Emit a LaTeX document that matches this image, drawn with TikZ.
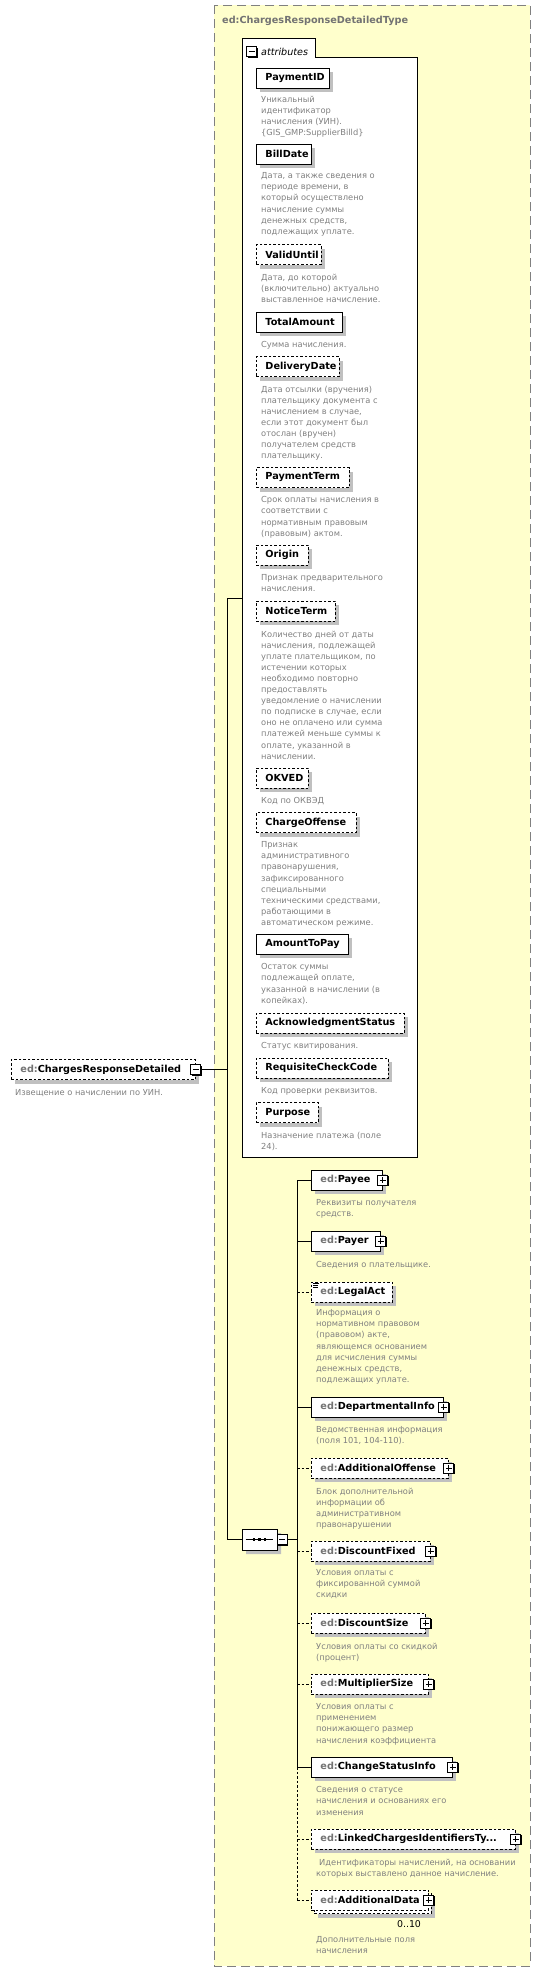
\documentclass[tikz,border=0pt]{standalone}
\usepackage{fontspec}
\setmainfont{DejaVu Sans}
\usetikzlibrary{shadows,shapes.misc}
\definecolor{yel}{RGB}{255,255,204}
\definecolor{descgray}{RGB}{128,128,128}
\definecolor{edgray}{RGB}{115,115,115}
\definecolor{shgray}{RGB}{192,192,192}
\definecolor{bordgray}{RGB}{128,128,128}
\newcommand{\namefont}{\fontsize{9.7}{11}\selectfont\bfseries}
\newcommand{\descfont}{\fontsize{8.3}{11.1}\selectfont}
\newcommand{\edp}{{\color{edgray}ed:}}
\newcommand{\nmbox}[2]{\makebox[\dimexpr#1pt-18pt\relax][l]{#2}}
\begin{document}
\begin{tikzpicture}[x=1pt,y=-1pt,
 shad/.style={general shadow={shadow xshift=4pt,shadow yshift=-4pt,fill=shgray}},
 box/.style={draw=black,line width=0.9pt,fill=white,inner xsep=9pt,inner ysep=1pt,minimum height=20pt,anchor=west,font=\namefont},
 opt/.style={dash pattern=on 2.5pt off 2pt},
 desc/.style={anchor=north west,yshift=7pt,inner sep=0pt,align=left,font=\descfont,text=descgray,
   execute at begin node={\rule{0pt}{7pt}}},
 smallbox/.style={draw=black,line width=0.9pt,fill=white,minimum size=10pt,inner sep=0pt,
   general shadow={shadow xshift=1pt,shadow yshift=-1pt,fill=black}},
 plusb/.style={smallbox,path picture={
   \draw[line width=0.9pt] ([xshift=2pt]path picture bounding box.west) -- ([xshift=-2pt]path picture bounding box.east);
   \draw[line width=0.9pt] ([yshift=-2pt]path picture bounding box.north) -- ([yshift=2pt]path picture bounding box.south);}},
 minusb/.style={smallbox,path picture={
   \draw[line width=0.9pt] ([xshift=2pt]path picture bounding box.west) -- ([xshift=-2pt]path picture bounding box.east);}},
 conn/.style={draw=black,line width=0.9pt},
]
\useasboundingbox (0,0) rectangle (541,1973);
\fill[white] (0,0) rectangle (541,1973);
% outer type box
\draw[draw=bordgray,line width=1pt,dash pattern=on 9pt off 5pt,fill=yel] (214,5) rectangle (530,1966);
\node[anchor=base west,inner sep=0pt,font=\fontsize{9.7}{11}\selectfont\bfseries,text=edgray] (title) at (222,23) {ed:ChargesResponseDetailedType};
% attributes compartment
\draw[line width=0.9pt,fill=white] (242,1157) -- (242,38) -- (315,38) -- (315,57) -- (417,57) -- (417,1157) -- cycle;
\node[minusb] (attrm) at (251.5,51.5) {};
\node[anchor=base west,inner sep=0pt,font=\fontsize{9.6}{11}\selectfont\itshape] (attrt) at (261,55) {attributes};

\node[box,shad] (a1) at (256,78) {\nmbox{73}{PaymentID}};
\node[desc] (a1d) at (261,102.5) {Уникальный\\идентификатор\\начисления (УИН).\\\{GIS\_GMP:SupplierBilld\}};
\node[box,shad] (a2) at (256,154) {\nmbox{55}{BillDate}};
\node[desc] (a2d) at (261,179.5) {Дата, а также сведения о\\периоде времени, в\\который осуществлено\\начисление суммы\\денежных средств,\\подлежащих уплате.};
\node[box,opt,shad] (a3) at (256,254.5) {\nmbox{65}{ValidUntil}};
\node[desc] (a3d) at (261,280.5) {Дата, до которой\\(включительно) актуально\\выставленное начисление.};
\node[box,shad] (a4) at (256,322) {\nmbox{86}{TotalAmount}};
\node[desc] (a4d) at (261,347.5) {Сумма начисления.};
\node[box,opt,shad] (a5) at (256,366.5) {\nmbox{83}{DeliveryDate}};
\node[desc] (a5d) at (261,392.5) {Дата отсылки (вручения)\\плательщику документа с\\начислением в случае,\\если этот документ был\\отослан (вручен)\\получателем средств\\плательщику.};
\node[box,opt,shad] (a6) at (256,477.5) {\nmbox{93}{PaymentTerm}};
\node[desc] (a6d) at (261,503.5) {Срок оплаты начисления в\\соответствии с\\нормативным правовым\\(правовым) актом.};
\node[box,opt,shad] (a7) at (256,555) {\nmbox{52}{Origin}};
\node[desc] (a7d) at (261,581.5) {Признак предварительного\\начисления.};
\node[box,opt,shad] (a8) at (256,611) {\nmbox{79}{NoticeTerm}};
\node[desc] (a8d) at (261,637.5) {Количество дней от даты\\начисления, подлежащей\\уплате плательщиком, по\\истечении которых\\необходимо повторно\\предоставлять\\уведомление о начислении\\по подписке в случае, если\\оно не оплачено или сумма\\платежей меньше суммы к\\оплате, указанной в\\начислении.};
\node[box,opt,shad] (a9) at (256,778) {\nmbox{52}{OKVED}};
\node[desc] (a9d) at (261,803.5) {Код по ОКВЭД};
\node[box,opt,shad] (a10) at (256,822.5) {\nmbox{100}{ChargeOffense}};
\node[desc] (a10d) at (261,848.5) {Признак\\административного\\правонарушения,\\зафиксированного\\специальными\\техническими средствами,\\работающими в\\автоматическом режиме.};
\node[box,shad] (a11) at (256,944) {\nmbox{92}{AmountToPay}};
\node[desc] (a11d) at (261,970.5) {Остаток суммы\\подлежащей оплате,\\указанной в начислении (в\\копейках).};
\node[box,opt,shad] (a12) at (256,1023) {\nmbox{148}{AcknowledgmentStatus}};
\node[desc] (a12d) at (261,1048.5) {Статус квитирования.};
\node[box,opt,shad] (a13) at (256,1068) {\nmbox{132}{RequisiteCheckCode}};
\node[desc] (a13d) at (261,1093.5) {Код проверки реквизитов.};
\node[box,opt,shad] (a14) at (256,1112.5) {\nmbox{62}{Purpose}};
\node[desc] (a14d) at (261,1138.5) {Назначение платежа (поле\\24).};

% root element
\node[box,opt,shad] (crd) at (11,1069.5) {\nmbox{184}{\edp ChargesResponseDetailed}};
\node[minusb] (crdm) at (crd.east) {};
\node[desc] (crdd) at (15,1095.5) {Извещение о начислении по УИН.};

% left bus
\coordinate (attrL) at (242,598);
\coordinate (L1) at (227,598);
\coordinate (L2) at (227,1539.5);
\draw[conn] (crdm.east) -- (crdm.east -| L1);
\draw[conn] (attrL) -- (L1) -- (L2);

% sequence compositor
\node[chamfered rectangle,chamfered rectangle xsep=5pt,draw=black,line width=0.9pt,fill=white,minimum width=35pt,minimum height=21pt,inner sep=0pt,shad] (seq) at (259.5,1539.5) {};
\draw[conn] (L2) -- (seq.west);
\draw[line width=0.9pt] ([xshift=4pt]seq.west) -- ([xshift=-4pt]seq.east);
\fill ([xshift=-5.5pt]seq.center) +(-1.3,-1.3) rectangle +(1.3,1.3);
\fill (seq.center) +(-1.3,-1.3) rectangle +(1.3,1.3);
\fill ([xshift=5.5pt]seq.center) +(-1.3,-1.3) rectangle +(1.3,1.3);
\node[minusb] (seqm) at (282,1539.5) {};
\coordinate (sq) at (297,1539.5);
\draw[conn] (seqm.east) -- (sq);

% child elements
\node[box,shad] (e1) at (311,1180) {\nmbox{71}{\edp Payee}};
\node[plusb] (e1p) at (e1.east) {};
\node[desc] (e1d) at (316,1206.5) {Реквизиты получателя\\средств.};
\node[box,shad] (e2) at (311,1241) {\nmbox{69}{\edp Payer}};
\node[plusb] (e2p) at (e2.east) {};
\node[desc] (e2d) at (316,1267.5) {Сведения о плательщике.};
\node[box,opt,shad] (e3) at (311,1292) {\nmbox{81}{\edp LegalAct}};
\draw[line width=0.6pt] (313,1283) -- (319,1283) (313,1285.2) -- (318,1285.2) (313,1287.4) -- (318,1287.4);
\node[desc] (e3d) at (316,1316.5) {Информация о\\нормативном правовом\\(правовом) акте,\\являющемся основанием\\для исчисления суммы\\денежных средств,\\подлежащих уплате.};
\node[box,shad] (e4) at (311,1407) {\nmbox{132}{\edp DepartmentalInfo}};
\node[plusb] (e4p) at (e4.east) {};
\node[desc] (e4d) at (316,1433.5) {Ведомственная информация\\(поля 101, 104-110).};
\node[box,opt,shad] (e5) at (311,1468) {\nmbox{137}{\edp AdditionalOffense}};
\node[plusb] (e5p) at (e5.east) {};
\node[desc] (e5d) at (316,1494.5) {Блок дополнительной\\информации об\\административном\\правонарушении};
\node[box,opt,shad] (e6) at (311,1551) {\nmbox{119}{\edp DiscountFixed}};
\node[plusb] (e6p) at (e6.east) {};
\node[desc] (e6d) at (316,1576.5) {Условия оплаты с\\фиксированной суммой\\скидки};
\node[box,opt,shad] (e7) at (311,1623) {\nmbox{114}{\edp DiscountSize}};
\node[plusb] (e7p) at (e7.east) {};
\node[desc] (e7d) at (316,1649.5) {Условия оплаты со скидкой\\(процент)};
\node[box,opt,shad] (e8) at (311,1684) {\nmbox{117}{\edp MultiplierSize}};
\node[plusb] (e8p) at (e8.east) {};
\node[desc] (e8d) at (316,1710.5) {Условия оплаты с\\применением\\понижающего размер\\начисления коэффициента};
\node[box,shad] (e9) at (311,1767) {\nmbox{141}{\edp ChangeStatusInfo}};
\node[plusb] (e9p) at (e9.east) {};
\node[desc] (e9d) at (316,1793.5) {Сведения о статусе\\начисления и основаниях его\\изменения};
\node[box,opt,shad] (e10) at (311,1839) {\nmbox{204}{\edp LinkedChargesIdentifiersTy...}};
\node[plusb] (e10p) at (e10.east) {};
\node[desc] (e10d) at (316,1865.5) {\hspace*{3pt}Идентификаторы начислений, на основании\\которых выставлено данное начисление.};
\node[box,opt,shad] (e11b) at (314,1903.5) {\phantom{\nmbox{117}{\edp AdditionalData}}};
\node[box,opt] (e11) at (311,1900) {\nmbox{117}{\edp AdditionalData}};
\node[plusb] (e11p) at (e11.east) {};
\node[anchor=center,inner sep=0pt,font=\fontsize{9.4}{11}\selectfont] (e11m) at (409,1924) {0..10};
\node[desc] (e11d) at (316,1943.5) {Дополнительные поля\\начисления};

% right bus
\coordinate (b1) at (297,1180);
\coordinate (b2) at (297,1767);
\coordinate (b3) at (297,1900);
\draw[conn] (b1) -- (b2);
\draw[conn,opt] (b2) -- (b3);
\draw[conn] (e1.west -| b1) -- (e1.west);
\draw[conn] (e2.west -| b1) -- (e2.west);
\draw[conn,opt] (e3.west -| b1) -- (e3.west);
\draw[conn] (e4.west -| b1) -- (e4.west);
\draw[conn,opt] (e5.west -| b1) -- (e5.west);
\draw[conn,opt] (e6.west -| b1) -- (e6.west);
\draw[conn,opt] (e7.west -| b1) -- (e7.west);
\draw[conn,opt] (e8.west -| b1) -- (e8.west);
\draw[conn] (e9.west -| b1) -- (e9.west);
\draw[conn,opt] (e10.west -| b1) -- (e10.west);
\draw[conn,opt] (e11.west -| b1) -- (e11.west);
\end{tikzpicture}
\end{document}
